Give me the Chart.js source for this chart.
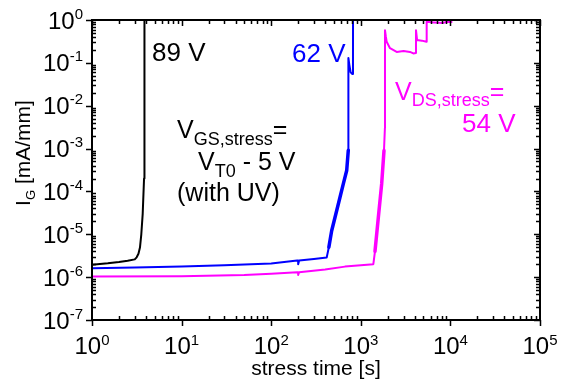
<!DOCTYPE html>
<html>
<head>
<meta charset="utf-8">
<title>Gate current vs stress time</title>
<script src="https://cdn.jsdelivr.net/npm/chart.js@4/dist/chart.umd.min.js"></script>
<style>
  body { margin: 0; background: #fff; }
  canvas { display: block; }
</style>
</head>
<body>
<canvas id="chart" width="563" height="385"></canvas>
<script>
// ---------------- data ----------------
const xDecades = [0, 1, 2, 3, 4, 5];
const yDecades = [-7, -6, -5, -4, -3, -2, -1, 0];

// 89 V
const blackTime    = [1, 1.5, 2, 2.5, 3, 3.15, 3.3, 3.43, 3.55, 3.68, 3.81, 3.85];
const blackCurrent = [1.95e-6, 2.1e-6, 2.25e-6, 2.4e-6, 2.6e-6, 2.9e-6, 3.5e-6, 4.9e-6, 1e-5, 3e-5, 2e-4, 2];

// 62 V
const blueTime    = [1, 3, 10, 30, 100, 195, 200, 200, 205, 300, 416, 440, 473, 515, 586, 638, 696, 725, 727, 745, 770, 805, 818, 819];
const blueCurrent = [1.62e-6, 1.68e-6, 1.77e-6, 1.9e-6, 2.08e-6, 2.45e-6, 2.45e-6, 2.0e-6, 2.45e-6, 2.65e-6, 2.86e-6, 5e-6, 1.21e-5, 2.47e-5, 7.3e-5, 1.5e-4, 3.07e-4, 9.1e-4, 0.13, 0.09, 0.06, 0.055, 0.06, 2];

// 54 V
const magentaTime    = [1, 10, 50, 100, 195, 200, 200, 205, 400, 665, 1000, 1380, 1440, 1570, 1710, 1815, 1858, 1862, 1900, 1945, 2118, 2513, 3000, 3540, 3855, 4120, 4130, 4250, 4800, 5400, 5420, 5450, 6500, 7500, 8200, 9000, 10300];
const magentaCurrent = [1.04e-6, 1.05e-6, 1.12e-6, 1.2e-6, 1.3e-6, 1.3e-6, 1.12e-6, 1.3e-6, 1.5e-6, 1.76e-6, 1.9e-6, 2.0e-6, 4e-6, 2.5e-5, 1.5e-4, 9e-4, 3e-3, 0.58, 0.42, 0.31, 0.22, 0.18, 0.19, 0.18, 0.166, 0.17, 0.58, 0.34, 0.33, 0.31, 0.31, 0.91, 0.88, 0.86, 0.85, 0.9, 0.9];

const FONT = '"Liberation Sans", Arial, sans-serif';

function points(xs, ys){
    return xs.map((x, i) => ({ x: x, y: ys[i] }));
}

// noisy stretches of the traces are drawn a little thicker
function noisyWidth(xs, from, to){
    return c => {
        const x0 = xs[c.p0DataIndex];
        return (x0 >= from && x0 < to) ? 3.5 : 2;
    };
}

// draw a run of text pieces: [text, size, raise]
function richText(ctx, pieces, x, y, align){
    let total = 0;
    pieces.forEach(p => {
        ctx.font = p[1] + "px " + FONT;
        total += ctx.measureText(p[0]).width;
    });
    let cx = x;
    if (align === "center") cx = x - total / 2;
    if (align === "right") cx = x - total;
    ctx.textAlign = "left";
    ctx.textBaseline = "alphabetic";
    pieces.forEach(p => {
        ctx.font = p[1] + "px " + FONT;
        ctx.fillText(p[0], cx, y - p[2]);
        cx += ctx.measureText(p[0]).width;
    });
}

// ======================================
// FRAME, TICKS, LABELS, NOTES
// ======================================

const framePlugin = {
    id: "frame",
    afterDraw(chart){
        const ctx = chart.ctx;
        const a = chart.chartArea;
        const xs = chart.scales.x;
        const ys = chart.scales.y;

        ctx.save();
        ctx.strokeStyle = "#000";
        ctx.fillStyle = "#000";

        // ticks
        ctx.lineWidth = 1.5;
        ctx.beginPath();
        xDecades.forEach(d => {
            for (let m = 1; m <= 9; m++){
                const v = m * Math.pow(10, d);
                if (v > xs.max * 1.0001) break;
                const px = Math.round(xs.getPixelForValue(v)) + 0.5;
                if (m === 1){
                    ctx.moveTo(px, a.bottom); ctx.lineTo(px, a.bottom + 6);
                    ctx.moveTo(px, a.top); ctx.lineTo(px, a.top + 6);
                } else {
                    ctx.moveTo(px, a.bottom); ctx.lineTo(px, a.bottom - 4);
                    ctx.moveTo(px, a.top); ctx.lineTo(px, a.top + 4);
                }
            }
        });
        yDecades.forEach(d => {
            for (let m = 1; m <= 9; m++){
                const v = m * Math.pow(10, d);
                if (v > ys.max * 1.0001) break;
                const py = Math.round(ys.getPixelForValue(v)) + 0.5;
                if (m === 1){
                    ctx.moveTo(a.left, py); ctx.lineTo(a.left - 6, py);
                    ctx.moveTo(a.right, py); ctx.lineTo(a.right - 6, py);
                } else {
                    ctx.moveTo(a.left, py); ctx.lineTo(a.left + 4, py);
                    ctx.moveTo(a.right, py); ctx.lineTo(a.right - 4, py);
                }
            }
        });
        ctx.stroke();

        // frame
        ctx.lineWidth = 2;
        ctx.strokeRect(a.left, a.top, a.right - a.left, a.bottom - a.top);

        // tick labels
        xDecades.forEach(d => {
            const px = xs.getPixelForValue(Math.pow(10, d));
            richText(ctx, [["10", 24, 0], [String(d), 15, 9]], px, a.bottom + 34, "center");
        });
        yDecades.forEach(d => {
            const py = ys.getPixelForValue(Math.pow(10, d));
            richText(ctx, [["10", 24, 0], [String(d), 15, 10]], a.left - 9, py + 8.5, "right");
        });

        // axis titles
        richText(ctx, [["stress time [s]", 21, 0]], (a.left + a.right) / 2, 375, "center");
        ctx.save();
        ctx.translate(30, 153);
        ctx.rotate(-Math.PI / 2);
        richText(ctx, [["I", 21, 0], ["G", 13, -5], [" [mA/mm]", 21, 0]], 0, 0, "center");
        ctx.restore();

        // notes
        ctx.fillStyle = "#000";
        richText(ctx, [["89 V", 26, 0]], 152, 61, "left");
        richText(ctx, [["V", 25, 0], ["GS,stress", 18, -7], ["=", 25, 0]], 177, 138, "left");
        richText(ctx, [["V", 25, 0], ["T0", 18, -7], [" - 5 V", 25, 0]], 198, 170, "left");
        richText(ctx, [["(with UV)", 25, 0]], 177, 201, "left");

        ctx.fillStyle = "#0000ff";
        richText(ctx, [["62 V", 26, 0]], 292, 62, "left");

        ctx.fillStyle = "#ff00ff";
        richText(ctx, [["V", 25, 0], ["DS,stress", 18, -6], ["=", 25, 0]], 395, 100, "left");
        richText(ctx, [["54 V", 26, 0]], 462, 132, "left");

        ctx.restore();
    }
};

// ======================================
// CHART
// ======================================

const ctx = document.getElementById("chart");

new Chart(ctx, {
    type: "line",
    data: {
        datasets: [
            { data: points(blackTime, blackCurrent), borderColor: "#000000" },
            {
                data: points(blueTime, blueCurrent), borderColor: "#0000ff",
                segment: { borderWidth: noisyWidth(blueTime, 440, 725) }
            },
            {
                data: points(magentaTime, magentaCurrent), borderColor: "#ff00ff",
                segment: { borderWidth: noisyWidth(magentaTime, 1440, 1815) }
            }
        ]
    },
    options: {
        responsive: false,
        animation: false,
        layout: { padding: { left: 92, top: 20, right: 23, bottom: 65 } },
        elements: {
            point: { radius: 0 },
            line: {
                borderWidth: 2, tension: 0, fill: false,
                borderCapStyle: "round", borderJoinStyle: "round"
            }
        },
        scales: {
            x: { type: "logarithmic", min: 1, max: 1e5, display: false },
            y: { type: "logarithmic", min: 1e-7, max: 1, display: false }
        },
        plugins: {
            legend: { display: false },
            tooltip: { enabled: false }
        }
    },
    plugins: [framePlugin]
});
</script>
</body>
</html>
